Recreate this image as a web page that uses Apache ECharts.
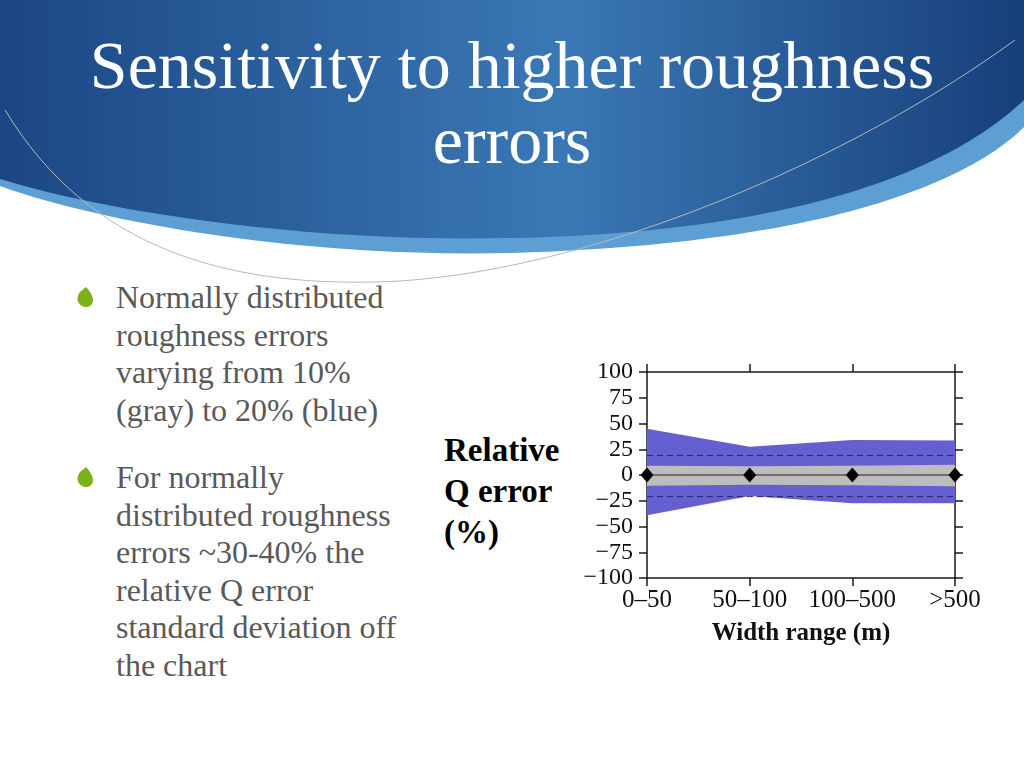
<!DOCTYPE html>
<html>
<head>
<meta charset="utf-8">
<script src="https://cdn.jsdelivr.net/npm/echarts@6/dist/echarts.min.js"></script>
<style>
  body { margin: 0; background: #fff; }
  #slide { position: relative; width: 1024px; height: 768px; overflow: hidden; background: #fff; }
  #bg { position: absolute; left: 0; top: 0; }
  .title { position: absolute; left: 0; width: 1024px; top: 28px; text-align: center; color: #fff;
    font-family: "Liberation Serif", serif; font-size: 68px; line-height: 75px; }
  .body { position: absolute; left: 116px; color: #595959; font-family: "Liberation Serif", serif;
    font-size: 32px; line-height: 37.5px; }
  .ylab { position: absolute; left: 444px; top: 430px; color: #000; font-weight: bold;
    font-family: "Liberation Serif", serif; font-size: 33px; line-height: 41px; }
  #chart { position: absolute; left: 560px; top: 350px; width: 464px; height: 310px; }
</style>
</head>
<body>
<div id="slide">
  <svg id="bg" width="1024" height="768">
    <defs>
      <linearGradient id="hg" x1="0" y1="0" x2="1" y2="0">
        <stop offset="0" stop-color="#1b4684"/>
        <stop offset="0.55" stop-color="#3a78b5"/>
        <stop offset="1" stop-color="#173f7a"/>
      </linearGradient>
    </defs>
    <path d="M0,0 H1024 V127 C960,190 800,245 512,253 C300,258 100,222 0,186 Z" fill="#5d9fd2"/>
    <path d="M0,0 H1024 V100 C950,170 800,232 512,238 C300,243 100,210 0,179 Z" fill="url(#hg)"/>
    <path d="M5,110 C90,250 230,290 400,281 C600,268 850,160 1015,40" fill="none" stroke="#b8b8b8" stroke-width="1"/>
    <path d="M80,292 C74,300 80,307 86,307 C92,307 98,300 86,287 Z" fill="#7ab317"/>
    <path d="M80,472 C74,480 80,487 86,487 C92,487 98,480 86,467 Z" fill="#7ab317"/>
  </svg>
  <div class="title">Sensitivity to higher roughness<br>errors</div>
  <div class="body" style="top:279px">Normally distributed<br>roughness errors<br>varying from 10%<br>(gray) to 20% (blue)</div>
  <div class="body" style="top:459px">For normally<br>distributed roughness<br>errors ~30-40% the<br>relative Q error<br>standard deviation off<br>the chart</div>
  <div class="ylab">Relative<br>Q error<br>(%)</div>
  <div id="chart"></div>
</div>
<script>
// width ranges (m)
const categories = ['0–50', '50–100', '100–500', '>500']
// 20% roughness error band (blue)
const blueHigh = [45, 27.5, 34, 33.5]
const blueLow = [-39, -20.5, -27.5, -27.5]
// 10% roughness error band (gray)
const grayHigh = [9, 8.5, 9, 10]
const grayLow = [-10.5, -9.5, -10, -11]
// dashed reference lines
const dashHigh = [19, 19, 19, 19]
const dashLow = [-21, -21, -21, -21]
// mean relative Q error
const meanErr = [0, 0, 0, 0]

const yTicks = { min: -100, max: 100, interval: 25 }

var myChart = echarts.init(document.getElementById('chart'))

const font = '"Liberation Serif", serif'
const frame = '#1a1a1a'

const band = (name, low, high, color) => [
  {
    name: name + '-base', type: 'line', stack: name, stackStrategy: 'all',
    data: low, symbol: 'none', lineStyle: { opacity: 0 }, silent: true
  },
  {
    name: name, type: 'line', stack: name, stackStrategy: 'all',
    data: high.map((v, i) => v - low[i]), symbol: 'none',
    lineStyle: { opacity: 0 }, areaStyle: { color: color, opacity: 1 }, silent: true
  }
]

const dashed = (data) => ({
  type: 'line', data: data, symbol: 'none', silent: true,
  lineStyle: { color: '#25256e', width: 1, type: [6, 4] }
})

myChart.setOption({
  animation: false,
  grid: { left: 87, top: 22, width: 308, height: 206 },
  xAxis: [
    {
      type: 'category', data: categories, boundaryGap: false, position: 'bottom',
      name: 'Width range (m)', nameLocation: 'middle', nameGap: 43,
      nameTextStyle: { fontFamily: font, fontSize: 25, fontWeight: 'bold', color: '#111' },
      axisLine: { onZero: false, lineStyle: { color: frame, width: 1.5 } },
      axisTick: { show: true, inside: false, length: 8, alignWithLabel: true, lineStyle: { color: frame, width: 1.5 } },
      axisLabel: { fontFamily: font, fontSize: 25, color: '#111', margin: 10, interval: 0 },
      splitLine: { show: false }
    },
    {
      type: 'category', data: categories, boundaryGap: false, position: 'top',
      axisLine: { onZero: false, lineStyle: { color: frame, width: 1.5 } },
      axisTick: { show: true, inside: false, length: 8, lineStyle: { color: frame, width: 1.5 } },
      axisLabel: { show: false },
      splitLine: { show: false }
    }
  ],
  yAxis: [
    {
      type: 'value', position: 'left', ...yTicks,
      axisLine: { show: true, onZero: false, lineStyle: { color: frame, width: 1.5 } },
      axisTick: { show: true, inside: false, length: 8, lineStyle: { color: frame, width: 1.5 } },
      axisLabel: {
        fontFamily: font, fontSize: 24, color: '#111', margin: 14,
        formatter: v => String(v).replace('-', '−')
      },
      splitLine: { show: false }
    },
    {
      type: 'value', position: 'right', ...yTicks,
      axisLine: { show: true, onZero: false, lineStyle: { color: frame, width: 1.5 } },
      axisTick: { show: true, inside: false, length: 8, lineStyle: { color: frame, width: 1.5 } },
      axisLabel: { show: false },
      splitLine: { show: false }
    }
  ],
  series: [
    ...band('blue', blueLow, blueHigh, '#6460cf'),
    ...band('gray', grayLow, grayHigh, '#bdbdbd'),
    dashed(dashHigh),
    dashed(dashLow),
    {
      name: 'mean', type: 'line', data: meanErr, symbol: 'diamond', symbolSize: [13, 15],
      lineStyle: { color: '#555', width: 1.5 }, itemStyle: { color: '#000' }
    }
  ]
})
</script>
</body>
</html>
